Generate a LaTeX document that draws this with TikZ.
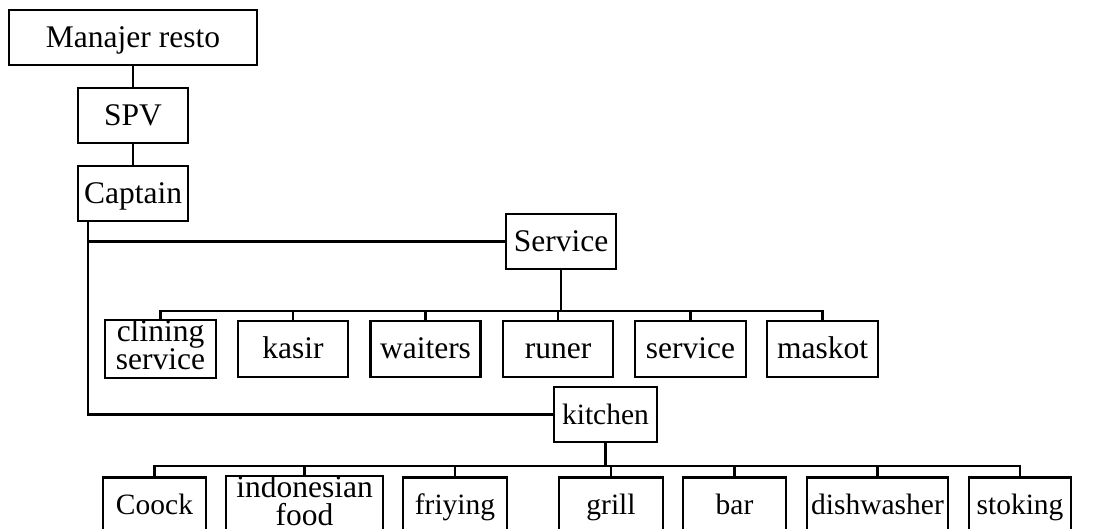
\documentclass[tikz,border=0pt]{standalone}
\usepackage{fontspec}
\setmainfont{Liberation Serif}
\usetikzlibrary{calc}

\begin{document}
\begin{tikzpicture}[x=1pt, y=-1pt,
    kotak/.style={draw, line width=2.4pt, inner sep=0pt, minimum height=55pt,
        font=\fontsize{31.5}{28}\selectfont, text height=24pt, text depth=5pt},
    kotakdua/.style={draw, line width=2.4pt, inner sep=0pt, minimum height=56pt,
        align=center, font=\fontsize{31.5}{28}\selectfont},
    dapur/.style={kotak, font=\fontsize{29.5}{28}\selectfont},
    garis/.style={line width=2.2pt}]

    \useasboundingbox (0,0) rectangle (1111,528);

    % jabatan atas
    \node[kotak, minimum width=248pt] (manajer) at (133,37.5) {Manajer resto};
    \node[kotak, minimum width=110pt] (spv) at (133,115.5) {SPV};
    \node[kotak, minimum width=110pt] (captain) at (133,193.5) {Captain};
    \node[kotak, minimum width=110pt] (service) at (561,241.5) {Service};
    \node[dapur, minimum width=103pt] (kitchen) at (605.5,414.5) {kitchen};

    % bagian service
    \node[kotakdua, minimum width=111pt] (clining) at (160.5,349) {clining\\service\strut};
    \node[kotak, minimum width=110pt, minimum height=56pt] (kasir) at (293,349) {kasir};
    \node[kotak, minimum width=110pt, minimum height=56pt] (waiters) at (425.5,349) {waiters};
    \node[kotak, minimum width=110pt, minimum height=56pt] (runer) at (558,349) {runer};
    \node[kotak, minimum width=111pt, minimum height=56pt] (servis) at (690.5,349) {service};
    \node[kotak, minimum width=111pt, minimum height=56pt] (maskot) at (822.5,349) {maskot};

    % bagian kitchen
    \node[dapur, minimum width=103pt] (coock) at (154.5,505) {Coock};
    \node[kotakdua, minimum width=157pt, minimum height=55pt] (indo) at (304.5,505) {indonesian\\food\strut};
    \node[dapur, minimum width=104pt] (friying) at (455,505) {friying};
    \node[dapur, minimum width=104pt] (grill) at (611,505) {grill};
    \node[dapur, minimum width=103pt] (bar) at (734.5,505) {bar};
    \node[dapur, minimum width=141pt] (dish) at (877.5,505) {dishwasher};
    \node[dapur, minimum width=102pt] (stoking) at (1020,505) {stoking};

    % garis penghubung
    \draw[garis] (manajer) -- (spv);
    \draw[garis] (spv) -- (captain);
    \coordinate (batang) at ($(captain.south west)+(11,0)$);
    \draw[garis] (batang) |- (kitchen.west);
    \draw[garis] (batang |- service.west) -- (service.west);

    \coordinate (busA) at ($(service.south)+(0,41)$);
    \draw[garis] (service.south) -- (busA);
    \foreach \n in {clining,kasir,waiters,runer,servis,maskot}
        \draw[garis] (\n.north) |- (busA);

    \coordinate (busB) at ($(kitchen.south)+(0,23)$);
    \draw[garis] (kitchen.south) -- (busB);
    \foreach \n in {coock,indo,friying,grill,bar,dish,stoking}
        \draw[garis] (\n.north) |- (busB);
\end{tikzpicture}
\end{document}
